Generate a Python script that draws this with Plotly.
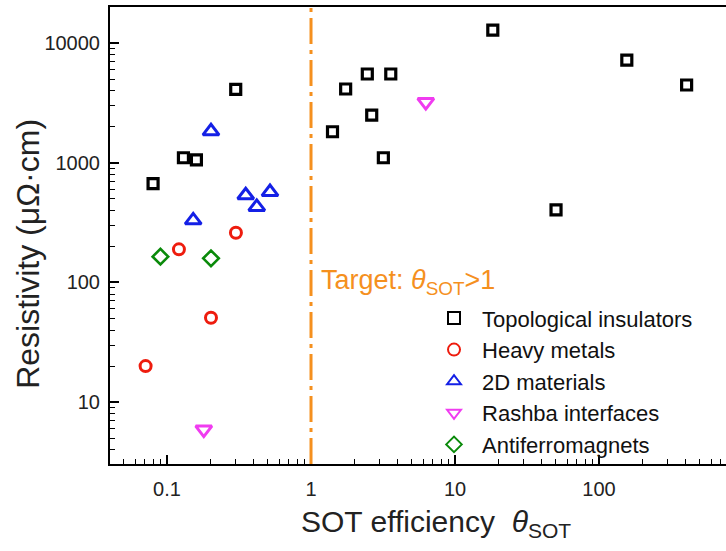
import plotly.graph_objects as go

# --- data ---
ti_x = [0.08, 0.13, 0.16, 0.30, 1.41, 1.74, 2.46, 2.64, 3.18, 3.58, 18.3, 50.3, 156, 406]
ti_y = [670, 1100, 1055, 4100, 1815, 4130, 5510, 2500, 1100, 5510, 12840, 403, 7210, 4460]

hm_x = [0.071, 0.121, 0.202, 0.301]
hm_y = [20.0, 189, 50.7, 260]

d2_x = [0.152, 0.202, 0.352, 0.42, 0.519]
d2_y = [330, 1830, 535, 427, 569]

ra_x = [0.18, 6.27]
ra_y = [5.9, 3210]

af_x = [0.090, 0.202]
af_y = [164, 159]

series_names = ["Topological insulators", "Heavy metals", "2D materials",
                "Rashba interfaces", "Antiferromagnets"]

x_tickvals = [0.1, 1, 10, 100]
x_ticktext = ["0.1", "1", "10", "100"]
y_tickvals = [10, 100, 1000, 10000]
y_ticktext = ["10", "100", "1000", "10000"]

target_x = 1

FONT = "Liberation Sans, Arial, sans-serif"

# minor tick positions (2..9 within each decade)
x_minor = [m * 10.0 ** e for e in range(-2, 3) for m in range(2, 10)]
y_minor = [m * 10.0 ** e for e in range(0, 5) for m in range(2, 10)]

fig = go.Figure()

styles = [
    (ti_x, ti_y, "square-open", "#000000", 10, 3.2),
    (hm_x, hm_y, "circle-open", "#EE1C0E", 11, 3),
    (d2_x, d2_y, "triangle-up-open", "#1420E6", 14, 3),
    (ra_x, ra_y, "triangle-down-open", "#F03CF0", 14, 3),
    (af_x, af_y, "diamond-open", "#0A8A0A", 12, 2.6),
]
for name, (xs, ys, sym, col, sz, lw) in zip(series_names, styles):
    fig.add_trace(go.Scatter(
        x=xs, y=ys, mode="markers", name=name,
        marker=dict(symbol=sym, size=sz, color=col, line=dict(color=col, width=lw)),
    ))

# target line
fig.add_shape(type="line", xref="x", yref="paper", x0=target_x, x1=target_x, y0=0, y1=1,
              line=dict(color="#F5901E", width=3, dash="26px,6px,4px,6px"))

fig.add_annotation(
    xref="x", yref="paper", x=0, y=0.399, xshift=8,
    xanchor="left", yanchor="middle", showarrow=False,
    text="Target: <i>θ</i><sub>SOT</sub>>1",
    font=dict(family=FONT, size=27, color="#F5901E"),
)

# axis titles (placed as annotations to match the reference positions)
fig.add_annotation(
    xref="paper", yref="paper", x=0.53, y=-0.13, xanchor="center", yanchor="middle",
    showarrow=False, text="SOT efficiency  <i>θ</i><sub>SOT</sub>",
    font=dict(family=FONT, size=30, color="#222"),
)
fig.add_annotation(
    xref="paper", yref="paper", x=-0.133, y=0.46, xanchor="center", yanchor="middle",
    showarrow=False, textangle=-90, text="Resistivity (μΩ·cm)",
    font=dict(family=FONT, size=32, color="#222"),
)

fig.update_xaxes(
    type="log", range=[-1.396, 2.882], automargin=False,
    tickvals=x_tickvals, ticktext=x_ticktext,
    ticks="inside", ticklen=9, tickwidth=1.5, tickcolor="black",
    minor=dict(ticks="inside", ticklen=5, tickwidth=1.2, tickcolor="black",
               tickvals=x_minor, showgrid=False),
    showline=True, linewidth=2, linecolor="black", mirror=True,
    showgrid=False, zeroline=False,
    tickfont=dict(family=FONT, size=20, color="#222"),
    ticklabelstandoff=6,
)
fig.update_yaxes(
    type="log", range=[0.483, 4.301], automargin=False,
    tickvals=y_tickvals, ticktext=y_ticktext,
    ticks="inside", ticklen=9, tickwidth=1.5, tickcolor="black",
    minor=dict(ticks="inside", ticklen=5, tickwidth=1.2, tickcolor="black",
               tickvals=y_minor, showgrid=False),
    showline=True, linewidth=2, linecolor="black", mirror=False,
    showgrid=False, zeroline=False,
    tickfont=dict(family=FONT, size=20, color="#222"),
    ticklabelstandoff=4,
)

fig.update_layout(
    width=726, height=551,
    margin=dict(l=110, r=0, t=7, b=87),
    plot_bgcolor="white", paper_bgcolor="white",
    legend=dict(x=0.513, y=0.365, xanchor="left", yanchor="top",
                font=dict(family=FONT, size=22, color="#111"),
                itemwidth=46,
                bgcolor="rgba(0,0,0,0)", tracegroupgap=0, itemsizing="constant"),
)

fig.write_html("out.html", config={"displayModeBar": False},
               post_script="document.body.style.margin='0';")
